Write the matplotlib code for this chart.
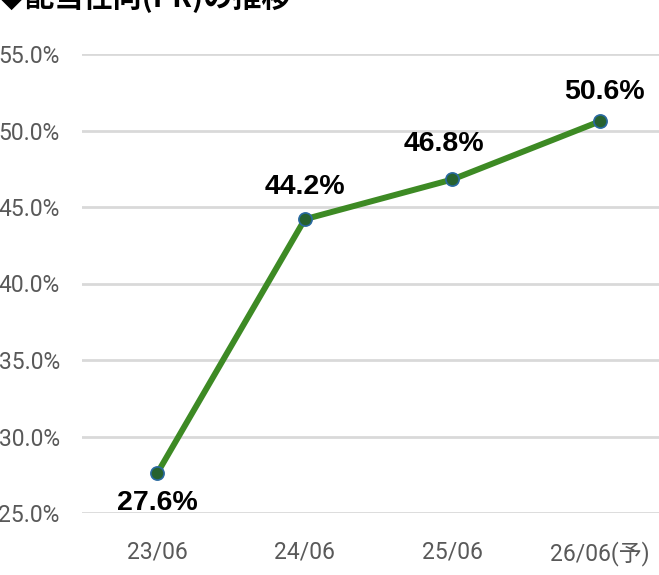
import matplotlib.pyplot as plt
from matplotlib.ticker import FuncFormatter

periods = ["23/06", "24/06", "25/06", "26/06(予)"]
payout_ratio = [27.6, 44.2, 46.8, 50.6]
y_ticks = [25, 30, 35, 40, 45, 50, 55]
label_offsets = [(0, -30), (0, 32), (-8, 35), (4, 29)]

plt.rcParams["font.family"] = ["Roboto", "Noto Sans CJK JP", "DejaVu Sans"]

fig = plt.figure(figsize=(6.59, 5.75), dpi=100)
ax = fig.add_axes([82 / 659, 62 / 575, 577 / 659, 459 / 575])

x = list(range(len(periods)))
ax.plot(x, payout_ratio, color="#3d8a24", linewidth=4.3, zorder=3,
        marker="o", markersize=9.5, markerfacecolor="#27622f",
        markeredgecolor="#2a6aa0", markeredgewidth=1.2, clip_on=False)

for xi, v, (dx, dy) in zip(x, payout_ratio, label_offsets):
    ax.annotate(f"{v:.1f}%", (xi, v), xytext=(dx, dy), textcoords="offset pixels",
                ha="center", va="center", fontsize=20.5, fontweight="bold",
                family=["Liberation Sans", "DejaVu Sans"], color="black")

ax.set_xlim(-0.51, 3.4)
ax.set_ylim(25, 55)
ax.set_yticks(y_ticks)
ax.yaxis.set_major_formatter(FuncFormatter(lambda v, p: f"{v:.1f}%"))
ax.set_xticks(x)
ax.set_xticklabels(periods)
ax.tick_params(axis="both", length=0, labelsize=16.5, labelcolor="#595959")
ax.tick_params(axis="y", pad=16)
ax.tick_params(axis="x", pad=20)
ax.grid(axis="y", color="#d9d9d9", linewidth=2)
ax.set_axisbelow(True)
for s in ax.spines.values():
    s.set_visible(False)

fig.text(-0.005, 1.032, "◆配当性向(PR)の推移", fontsize=21, fontweight="bold",
         family=["Noto Sans CJK JP", "DejaVu Sans"], ha="left", va="top")

fig.savefig("out.png", dpi=100)
